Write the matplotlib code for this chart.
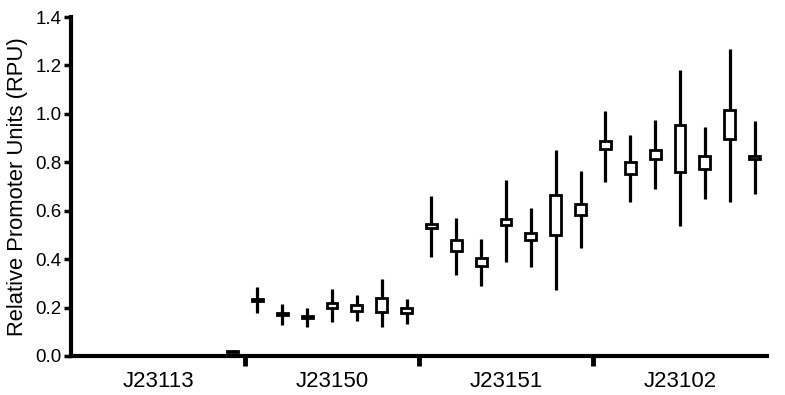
import matplotlib
matplotlib.use("Agg")
import matplotlib.pyplot as plt
import numpy as np

plt.rcParams['font.family'] = ['Liberation Sans', 'DejaVu Sans']

groups = ["J23113", "J23150", "J23151", "J23102"]
slots_per_group = 7

# whisker low, box bottom, box top, whisker high (per group, 7 samples each)
low = [
    [0, 0, 0, 0, 0, 0, 0.017],
    [0.178, 0.13, 0.12, 0.14, 0.146, 0.118, 0.132],
    [0.41, 0.335, 0.289, 0.387, 0.369, 0.273, 0.445],
    [0.719, 0.634, 0.689, 0.537, 0.648, 0.638, 0.668],
]
q1 = [
    [0, 0, 0, 0, 0, 0, 0.0185],
    [0.226, 0.170, 0.157, 0.198, 0.187, 0.183, 0.179],
    [0.529, 0.435, 0.372, 0.543, 0.479, 0.50, 0.581],
    [0.855, 0.752, 0.814, 0.759, 0.771, 0.895, 0.815],
]
q3 = [
    [0, 0, 0, 0, 0, 0, 0.0215],
    [0.234, 0.178, 0.165, 0.22, 0.21, 0.241, 0.197],
    [0.545, 0.479, 0.404, 0.565, 0.51, 0.665, 0.627],
    [0.886, 0.80, 0.851, 0.952, 0.824, 1.017, 0.828],
]
high = [
    [0, 0, 0, 0, 0, 0, 0.023],
    [0.285, 0.215, 0.20, 0.277, 0.25, 0.32, 0.234],
    [0.661, 0.571, 0.482, 0.727, 0.613, 0.851, 0.762],
    [1.012, 0.913, 0.975, 1.18, 0.945, 1.267, 0.972],
]

W, H = 785, 395
fig = plt.figure(figsize=(W / 100, H / 100), dpi=100)
ax = fig.add_axes([71 / W, 1 - 356 / H, (767 - 71) / W, (356 - 17) / H])

box_w = 0.062
for g in range(len(groups)):
    for k in range(slots_per_group):
        x = g + (k + 0.5) / slots_per_group
        ax.vlines(x, low[g][k], high[g][k], color='black', lw=2.3, zorder=2)
        ax.bar(x, q3[g][k] - q1[g][k], bottom=q1[g][k], width=box_w,
               facecolor='white', edgecolor='black', linewidth=2.0, zorder=3)

ax.set_xlim(0, len(groups))
ax.set_ylim(0, 1.4)

ax.set_yticks(np.arange(0, 1.41, 0.2))
ax.set_yticklabels([f"{v:.1f}" for v in np.arange(0, 1.41, 0.2)], fontsize=13.5)
ax.tick_params(axis='y', length=5, width=2.5, pad=2, direction='out')

ax.set_xticks([1, 2, 3])
ax.set_xticklabels([])
ax.tick_params(axis='x', which='major', length=7, width=3.5, direction='out')
ax.set_xticks([g + 0.5 for g in range(len(groups))], minor=True)
ax.set_xticklabels(groups, minor=True, fontsize=16)
ax.tick_params(axis='x', which='minor', length=0, pad=11)

for s in ['top', 'right']:
    ax.spines[s].set_visible(False)
for s in ['left', 'bottom']:
    ax.spines[s].set_linewidth(3)
    ax.spines[s].set_zorder(5)

ax.set_ylabel("Relative Promoter Units (RPU)", fontsize=15.8, labelpad=5)

fig.savefig("out.png", dpi=100)
